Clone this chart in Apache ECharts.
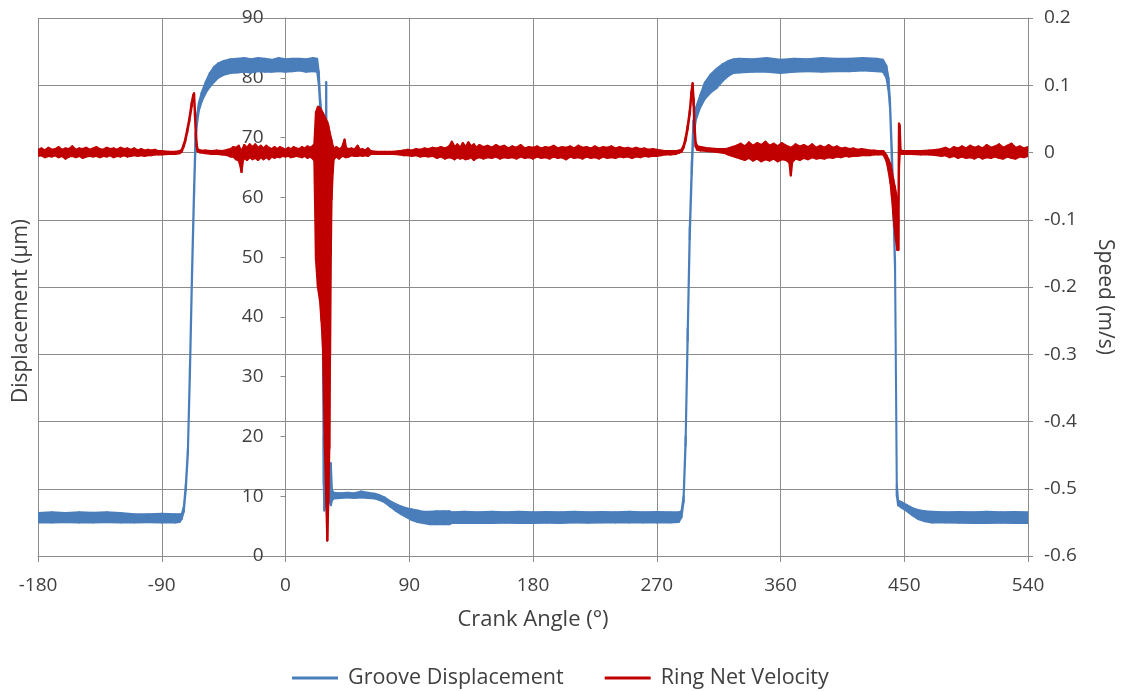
<!DOCTYPE html>
<html>
<head>
<meta charset="utf-8">
<title>Groove Displacement and Ring Net Velocity</title>
<script src="https://cdn.jsdelivr.net/npm/echarts@6/dist/echarts.min.js"></script>
<style>
  html, body { margin: 0; padding: 0; background: #ffffff; }
  #chart { width: 1123px; height: 691px; }
</style>
</head>
<body>
<div id="chart"></div>
<script>
// Axis ticks
const angleTicks = [-180, -90, 0, 90, 180, 270, 360, 450, 540];          // crank angle, degrees
const displacementTicks = [0, 10, 20, 30, 40, 50, 60, 70, 80, 90];       // micrometres
const speedTicks = [-0.6, -0.5, -0.4, -0.3, -0.2, -0.1, 0, 0.1, 0.2];    // m/s

// Groove displacement trace: [crank angle, upper edge, lower edge] in µm.
// The signal carries a dense ripple, so each row holds the top and bottom of the ripple band.
const displacementTrace = [
  [-180, 7.2, 5.6], [-170, 7.3, 5.6], [-160, 7.2, 5.65], [-150, 7.3, 5.6], [-140, 7.25, 5.6],
  [-130, 7.3, 5.65], [-120, 7.2, 5.6], [-110, 7.0, 5.6], [-100, 7.0, 5.65], [-90, 7.05, 5.6],
  [-80, 7.0, 5.6], [-77, 7.0, 5.7],
  [-75.5, 7.0, 6.2], [-74, 8.2, 7.4], [-72.5, 12, 11], [-71, 18, 17], [-69.5, 32, 30],
  [-68, 48, 46], [-66.5, 62, 60], [-65.5, 70, 68], [-64.5, 73.5, 72], [-63, 75.8, 74.5],
  [-61, 77.5, 76], [-58, 79.3, 77.5], [-55, 80.8, 78.5], [-52, 81.8, 79.3], [-49, 82.4, 80],
  [-45, 82.8, 80.5], [-40, 83.1, 80.8], [-35, 83.2, 80.9], [-30, 83.3, 81.0], [-25, 83.1, 80.9],
  [-20, 83.3, 81.1], [-15, 83.2, 81.0], [-10, 83.0, 81.0], [-5, 83.3, 81.1], [0, 83.1, 81.0],
  [5, 83.2, 81.1], [10, 83.2, 81.2], [15, 83.1, 81.0], [20, 83.3, 81.1], [23, 83.2, 81.0],
  [24.2, 81, 79], [25.2, 76.5, 75], [26.2, 74, 72], [26.8, 60, 50], [27.3, 40, 30],
  [27.8, 20, 12], [28.2, 9, 7.6], [28.8, 12, 8.5], [29.3, 15, 10], [29.6, 79.3, 70],
  [30.0, 14, 9], [31, 11, 9], [32.2, 11, 9], [33.0, 15.5, 8.5], [33.8, 11, 9.3],
  [35, 10.6, 9.6], [40, 10.5, 9.7], [45, 10.6, 9.8], [50, 10.5, 9.7], [55, 10.8, 9.8],
  [60, 10.6, 9.7], [65, 10.4, 9.6], [68, 10.2, 9.4], [72, 9.8, 9.0], [76, 9.2, 8.3],
  [80, 8.7, 7.6], [84, 8.3, 7.0], [88, 8.0, 6.5], [92, 7.8, 6.0], [96, 7.6, 5.7],
  [100, 7.4, 5.5], [105, 7.4, 5.3], [110, 7.5, 5.3], [115, 7.5, 5.3], [119, 7.5, 5.3],
  [121, 7.3, 5.5], [130, 7.4, 5.5], [140, 7.3, 5.5], [150, 7.4, 5.5], [160, 7.3, 5.55],
  [170, 7.4, 5.5], [180, 7.3, 5.5], [190, 7.35, 5.55], [200, 7.3, 5.5], [210, 7.4, 5.6],
  [220, 7.3, 5.55], [230, 7.35, 5.6], [240, 7.3, 5.6], [250, 7.4, 5.6], [260, 7.3, 5.6],
  [270, 7.35, 5.6], [280, 7.3, 5.6], [286, 7.3, 5.7],
  [288, 7.5, 6.5], [289.5, 10, 9], [291, 20, 18.5], [292.5, 38, 36], [294, 55, 53],
  [295.5, 66, 64], [296.6, 72.8, 70], [298.5, 75, 73], [301.5, 77, 75], [305, 79.2, 76.5],
  [309, 80.5, 77.5], [313.6, 81.5, 78.3], [318, 82.3, 79.5], [322, 82.8, 80.3], [326, 83.1, 80.8],
  [330, 83.2, 80.9], [340, 83.1, 81.0], [350, 83.3, 81.0], [360, 83.0, 80.8], [370, 83.2, 81.0],
  [380, 83.1, 81.1], [390, 83.3, 81.0], [400, 83.2, 81.1], [410, 83.2, 81.1], [420, 83.3, 81.2],
  [430, 83.2, 81.1], [434.5, 83.0, 81.0],
  [437, 82, 80], [438.5, 80, 78], [439.6, 76.5, 75], [441, 68, 66], [442.3, 58, 56],
  [443.3, 49.5, 47.5], [444, 30, 28], [444.6, 12, 10], [445.5, 9.3, 8.5], [448, 9.0, 8.1],
  [452, 8.5, 7.5], [456, 8.0, 6.8], [460, 7.7, 6.2], [465, 7.5, 5.8], [470, 7.4, 5.6],
  [480, 7.3, 5.6], [490, 7.35, 5.55], [500, 7.3, 5.5], [510, 7.4, 5.5], [520, 7.3, 5.55],
  [530, 7.35, 5.5], [540, 7.3, 5.5]
];

// Ring net velocity trace: [crank angle, upper edge, lower edge] in m/s.
const velocityTrace = [
  [-180, 0.004, -0.005], [-177.5, 0.006, -0.004], [-175, 0.003, -0.007], [-172.5, 0.007, -0.005],
  [-170, 0.004, -0.006], [-167.5, 0.005, -0.004], [-165, 0.008, -0.007], [-162.5, 0.004, -0.005],
  [-160, 0.006, -0.009], [-157.5, 0.005, -0.006], [-155, 0.009, -0.005], [-152.5, 0.004, -0.007],
  [-150, 0.006, -0.005], [-147.5, 0.005, -0.008], [-145, 0.007, -0.006], [-142.5, 0.004, -0.005],
  [-140, 0.006, -0.006], [-137.5, 0.008, -0.005], [-135, 0.005, -0.007], [-132.5, 0.004, -0.005],
  [-130, 0.007, -0.006], [-127.5, 0.005, -0.004], [-125, 0.006, -0.007], [-122.5, 0.004, -0.005],
  [-120, 0.007, -0.006], [-117.5, 0.005, -0.004], [-115, 0.006, -0.006], [-112.5, 0.004, -0.005],
  [-110, 0.006, -0.004], [-107.5, 0.003, -0.005], [-105, 0.005, -0.004], [-102.5, 0.003, -0.005],
  [-100, 0.004, -0.004], [-97.5, 0.003, -0.004], [-95, 0.004, -0.003], [-92.5, 0.002, -0.003],
  [-90, 0.002, -0.003], [-85, 0.001, -0.002], [-80, 0.001, -0.002],
  [-77, 0.002, -0.001], [-75.5, 0.004, 0.001], [-74, 0.012, 0.009], [-73, 0.019, 0.016],
  [-71.5, 0.034, 0.030], [-70, 0.050, 0.046], [-68.2, 0.074, 0.069], [-67.2, 0.085, 0.080],
  [-66.5, 0.088, 0.083], [-65.8, 0.060, 0.052], [-65.2, 0.030, 0.024], [-64.5, 0.012, 0.008],
  [-64, 0.005, 0.002], [-62, 0.003, 0.000], [-58, 0.003, -0.001], [-54, 0.002, -0.002],
  [-50, 0.003, -0.002], [-46, 0.002, -0.003], [-42, 0.004, -0.004],
  [-40, 0.005, -0.006], [-38, 0.008, -0.006], [-36, 0.007, -0.010], [-34, 0.010, -0.012],
  [-33, 0.005, -0.018], [-32, 0.003, -0.029], [-31, 0.006, -0.012], [-30, 0.011, -0.008],
  [-28, 0.007, -0.011], [-26, 0.012, -0.007], [-24, 0.008, -0.010], [-22, 0.012, -0.008],
  [-20, 0.007, -0.011], [-18, 0.010, -0.007], [-16, 0.006, -0.010], [-14, 0.010, -0.007],
  [-12, 0.007, -0.010], [-10, 0.005, -0.006], [-8, 0.008, -0.008], [-6, 0.005, -0.006],
  [-4, 0.008, -0.007], [-2, 0.006, -0.005], [0, 0.004, -0.006], [2, 0.007, -0.005],
  [4, 0.005, -0.007], [6, 0.008, -0.006], [8, 0.006, -0.005], [10, 0.005, -0.006],
  [12, 0.008, -0.007], [14, 0.006, -0.005], [16, 0.009, -0.008], [18, 0.007, -0.006],
  [20, 0.010, -0.009], [21, 0.012, -0.012],
  [22.2, 0.060, -0.160], [23.6, 0.068, -0.200], [25.1, 0.066, -0.220], [26.2, 0.062, -0.250],
  [27.3, 0.058, -0.290], [28.7, 0.052, -0.440], [30.4, 0.045, -0.577], [31.1, 0.040, -0.520],
  [31.85, 0.032, -0.440], [32.36, 0.027, -0.300], [32.95, 0.022, -0.150], [33.45, 0.018, -0.070],
  [34.3, 0.010, -0.030],
  [35, 0.006, -0.010], [37, 0.008, -0.006], [39, 0.005, -0.009], [41, 0.007, -0.005],
  [43, 0.019, -0.006], [44, 0.007, -0.007], [46, 0.005, -0.006], [48, 0.006, -0.004],
  [50, 0.004, -0.005], [52.5, 0.010, -0.005], [54, 0.004, -0.004], [56, 0.005, -0.005],
  [58, 0.003, -0.004], [60, 0.006, -0.005], [62, 0.002, -0.002],
  [66, 0.001, -0.002], [72, 0.001, -0.002], [78, 0.001, -0.002], [83, 0.002, -0.003],
  [86, 0.003, -0.004], [89, 0.004, -0.004], [92, 0.003, -0.005], [95, 0.005, -0.004],
  [98, 0.004, -0.006], [101, 0.006, -0.005], [104, 0.005, -0.006], [107, 0.007, -0.005],
  [110, 0.006, -0.008], [113, 0.008, -0.006], [116, 0.006, -0.009], [119, 0.009, -0.007],
  [121, 0.016, -0.008], [123, 0.008, -0.010], [125, 0.012, -0.007], [127, 0.007, -0.009],
  [129, 0.014, -0.008], [131, 0.008, -0.010], [133, 0.015, -0.009], [135, 0.009, -0.007],
  [137, 0.012, -0.011], [139, 0.007, -0.008], [141, 0.011, -0.007], [144, 0.008, -0.009],
  [147, 0.010, -0.007], [150, 0.007, -0.008], [153, 0.011, -0.006], [156, 0.008, -0.009],
  [159, 0.010, -0.007], [162, 0.006, -0.008], [165, 0.009, -0.007], [168, 0.007, -0.009],
  [171, 0.011, -0.006], [174, 0.006, -0.008], [177, 0.008, -0.007], [180, 0.007, -0.009],
  [183, 0.009, -0.006], [186, 0.006, -0.008], [189, 0.008, -0.007], [192, 0.007, -0.009],
  [195, 0.010, -0.006], [198, 0.006, -0.008], [201, 0.008, -0.007], [204, 0.007, -0.010],
  [207, 0.009, -0.006], [210, 0.006, -0.008], [213, 0.010, -0.007], [216, 0.007, -0.009],
  [219, 0.008, -0.006], [222, 0.006, -0.008], [225, 0.009, -0.007], [228, 0.006, -0.009],
  [231, 0.008, -0.006], [234, 0.007, -0.008], [237, 0.009, -0.007], [240, 0.006, -0.008],
  [243, 0.008, -0.006], [246, 0.006, -0.007], [249, 0.007, -0.006], [252, 0.005, -0.008],
  [255, 0.007, -0.006], [258, 0.005, -0.007], [261, 0.006, -0.005], [264, 0.004, -0.006],
  [267, 0.005, -0.005], [270, 0.004, -0.005], [273, 0.003, -0.004], [276, 0.002, -0.003],
  [280, 0.002, -0.003], [284, 0.002, -0.002], [286.5, 0.003, 0.000],
  [288, 0.004, 0.001], [289.5, 0.010, 0.007], [291, 0.022, 0.018], [292.5, 0.040, 0.035],
  [294, 0.062, 0.057], [295.2, 0.090, 0.084], [296.1, 0.103, 0.097], [296.8, 0.080, 0.070],
  [297.5, 0.040, 0.030], [298.3, 0.015, 0.009], [299.5, 0.009, 0.004], [302, 0.008, 0.003],
  [308, 0.006, 0.002], [314, 0.005, 0.001], [320, 0.005, -0.001],
  [322, 0.006, -0.003], [325, 0.008, -0.005], [328, 0.010, -0.007], [331, 0.013, -0.009],
  [334, 0.009, -0.011], [337, 0.015, -0.008], [340, 0.010, -0.012], [343, 0.014, -0.009],
  [346, 0.011, -0.013], [349, 0.016, -0.010], [352, 0.010, -0.012], [355, 0.013, -0.009],
  [358, 0.009, -0.013], [361, 0.014, -0.010], [364, 0.010, -0.011], [366.5, 0.008, -0.015],
  [367.5, 0.006, -0.034], [368.5, 0.008, -0.014], [371, 0.012, -0.009], [374, 0.009, -0.011],
  [377, 0.011, -0.008], [380, 0.008, -0.010], [383, 0.012, -0.007], [386, 0.007, -0.009],
  [389, 0.010, -0.008], [392, 0.007, -0.009], [395, 0.011, -0.007], [398, 0.007, -0.008],
  [401, 0.009, -0.006], [404, 0.006, -0.007], [407, 0.007, -0.005], [410, 0.005, -0.006],
  [413, 0.006, -0.005], [416, 0.004, -0.005], [419, 0.005, -0.004], [422, 0.004, -0.004],
  [425, 0.003, -0.004], [428, 0.003, -0.003], [431, 0.002, -0.003], [434.8, 0.002, -0.003],
  [437, -0.004, -0.012], [438.4, -0.010, -0.025], [440, -0.018, -0.045], [441, -0.028, -0.065],
  [442, -0.040, -0.090], [443, -0.050, -0.110], [444, -0.060, -0.130], [445, -0.070, -0.145],
  [445.7, -0.100, -0.145], [446.2, 0.043, -0.020], [446.7, 0.040, 0.000], [447.3, 0.004, -0.002],
  [448.5, 0.002, -0.002], [455, 0.002, -0.002], [462, 0.002, -0.003], [468, 0.003, -0.003],
  [474, 0.004, -0.004], [477, 0.005, -0.005], [480, 0.007, -0.004], [483, 0.004, -0.007],
  [486, 0.008, -0.005], [489, 0.006, -0.008], [492, 0.009, -0.006], [495, 0.006, -0.008],
  [498, 0.010, -0.007], [501, 0.007, -0.009], [504, 0.009, -0.006], [507, 0.006, -0.009],
  [510, 0.011, -0.007], [513, 0.007, -0.008], [516, 0.009, -0.006], [519, 0.012, -0.008],
  [522, 0.007, -0.009], [525, 0.010, -0.006], [528, 0.013, -0.008], [531, 0.007, -0.009],
  [534, 0.009, -0.006], [537, 0.006, -0.007], [540, 0.008, -0.005]
];

const BLUE = '#4A7EBB';
const RED = '#C00000';
const GRID_GREY = '#8C8C8C';
const TEXT = '#404040';
const FONT = '"Open Sans", "Noto Sans", sans-serif';

const CHART_W = 1123;
const GRID = { left: 38, right: 95, top: 18, bottom: 135 };

// The displacement axis crosses the crank-angle axis at 0°, so shift it
// inward from the grid's left edge by the width of the -180°..0° span.
const angleMin = angleTicks[0];
const angleMax = angleTicks[angleTicks.length - 1];
const plotWidth = CHART_W - GRID.left - GRID.right;
const displacementAxisOffset = -plotWidth * (0 - angleMin) / (angleMax - angleMin);

// Each trace is drawn as a ripple band: every row after the first closes a
// quadrilateral between its own upper/lower edge and the previous row's.
function bandSeries(name, trace, color, yAxisIndex, strokeWidth, z) {
  return {
    name: name,
    type: 'custom',
    xAxisIndex: 0,
    yAxisIndex: yAxisIndex,
    data: trace,
    encode: { x: 0, y: [1, 2] },
    color: color,
    itemStyle: { color: color },
    silent: true,
    clip: true,
    z: z,
    renderItem: function (params, api) {
      const i = params.dataIndex;
      if (i === 0) return null;
      const a = api.value(0, i - 1), b = api.value(0, i);
      const p1 = api.coord([a, api.value(1, i - 1)]);
      const p2 = api.coord([b, api.value(1, i)]);
      const p3 = api.coord([b, api.value(2, i)]);
      const p4 = api.coord([a, api.value(2, i - 1)]);
      return {
        type: 'polygon',
        shape: { points: [p1, p2, p3, p4] },
        style: { fill: color, stroke: color, lineWidth: strokeWidth, lineJoin: 'round' }
      };
    }
  };
}

const chart = echarts.init(document.getElementById('chart'), null, { renderer: 'canvas' });

const axisLineStyle = { color: GRID_GREY, width: 1 };
const labelStyle = { color: TEXT, fontSize: 19, fontFamily: FONT };

chart.setOption({
  animation: false,
  backgroundColor: '#ffffff',
  grid: Object.assign({ containLabel: false, outerBoundsMode: 'none' }, GRID),
  xAxis: {
    type: 'value',
    min: angleMin,
    max: angleMax,
    interval: angleTicks[1] - angleTicks[0],
    axisLine: { show: true, onZero: false, lineStyle: axisLineStyle },
    axisTick: { show: true, inside: false, length: 6, lineStyle: axisLineStyle },
    axisLabel: Object.assign({ margin: 20 }, labelStyle),
    splitLine: { show: true, lineStyle: axisLineStyle },
    name: 'Crank Angle (°)',
    nameLocation: 'middle',
    nameGap: 53,
    nameTextStyle: { color: TEXT, fontSize: 22, fontFamily: FONT }
  },
  yAxis: [
    {
      type: 'value',
      position: 'left',
      offset: displacementAxisOffset,
      min: displacementTicks[0],
      max: displacementTicks[displacementTicks.length - 1],
      interval: displacementTicks[1] - displacementTicks[0],
      axisLine: { show: true, onZero: false, lineStyle: axisLineStyle },
      axisTick: { show: true, inside: false, length: 5, lineStyle: axisLineStyle },
      axisLabel: Object.assign({ margin: 22 }, labelStyle),
      splitLine: { show: false }
    },
    {
      type: 'value',
      position: 'right',
      min: speedTicks[0],
      max: speedTicks[speedTicks.length - 1],
      interval: 0.1,
      axisLine: { show: true, onZero: false, lineStyle: axisLineStyle },
      axisTick: { show: true, inside: false, length: 5, lineStyle: axisLineStyle },
      axisLabel: Object.assign({ margin: 16 }, labelStyle),
      splitLine: { show: true, lineStyle: axisLineStyle }
    }
  ],
  legend: {
    data: [
      { name: 'Groove Displacement', icon: 'rect' },
      { name: 'Ring Net Velocity', icon: 'rect' }
    ],
    left: 292,
    top: 667,
    padding: 0,
    itemWidth: 46,
    itemHeight: 3,
    itemGap: 41,
    selectedMode: false,
    textStyle: { color: TEXT, fontSize: 21.5, fontFamily: FONT, padding: [0, 0, 0, 5] }
  },
  graphic: [
    {
      type: 'text',
      x: 21, y: 311,
      rotation: Math.PI / 2,
      style: { text: 'Displacement (µm)', font: '21px ' + FONT, fill: TEXT, textAlign: 'center', textVerticalAlign: 'middle' }
    },
    {
      type: 'text',
      x: 1105, y: 297,
      rotation: -Math.PI / 2,
      style: { text: 'Speed (m/s)', font: '21px ' + FONT, fill: TEXT, textAlign: 'center', textVerticalAlign: 'middle' }
    }
  ],
  series: [
    bandSeries('Groove Displacement', displacementTrace, BLUE, 0, 2, 2),
    bandSeries('Ring Net Velocity', velocityTrace, RED, 1, 2.2, 3)
  ]
});
</script>
</body>
</html>
